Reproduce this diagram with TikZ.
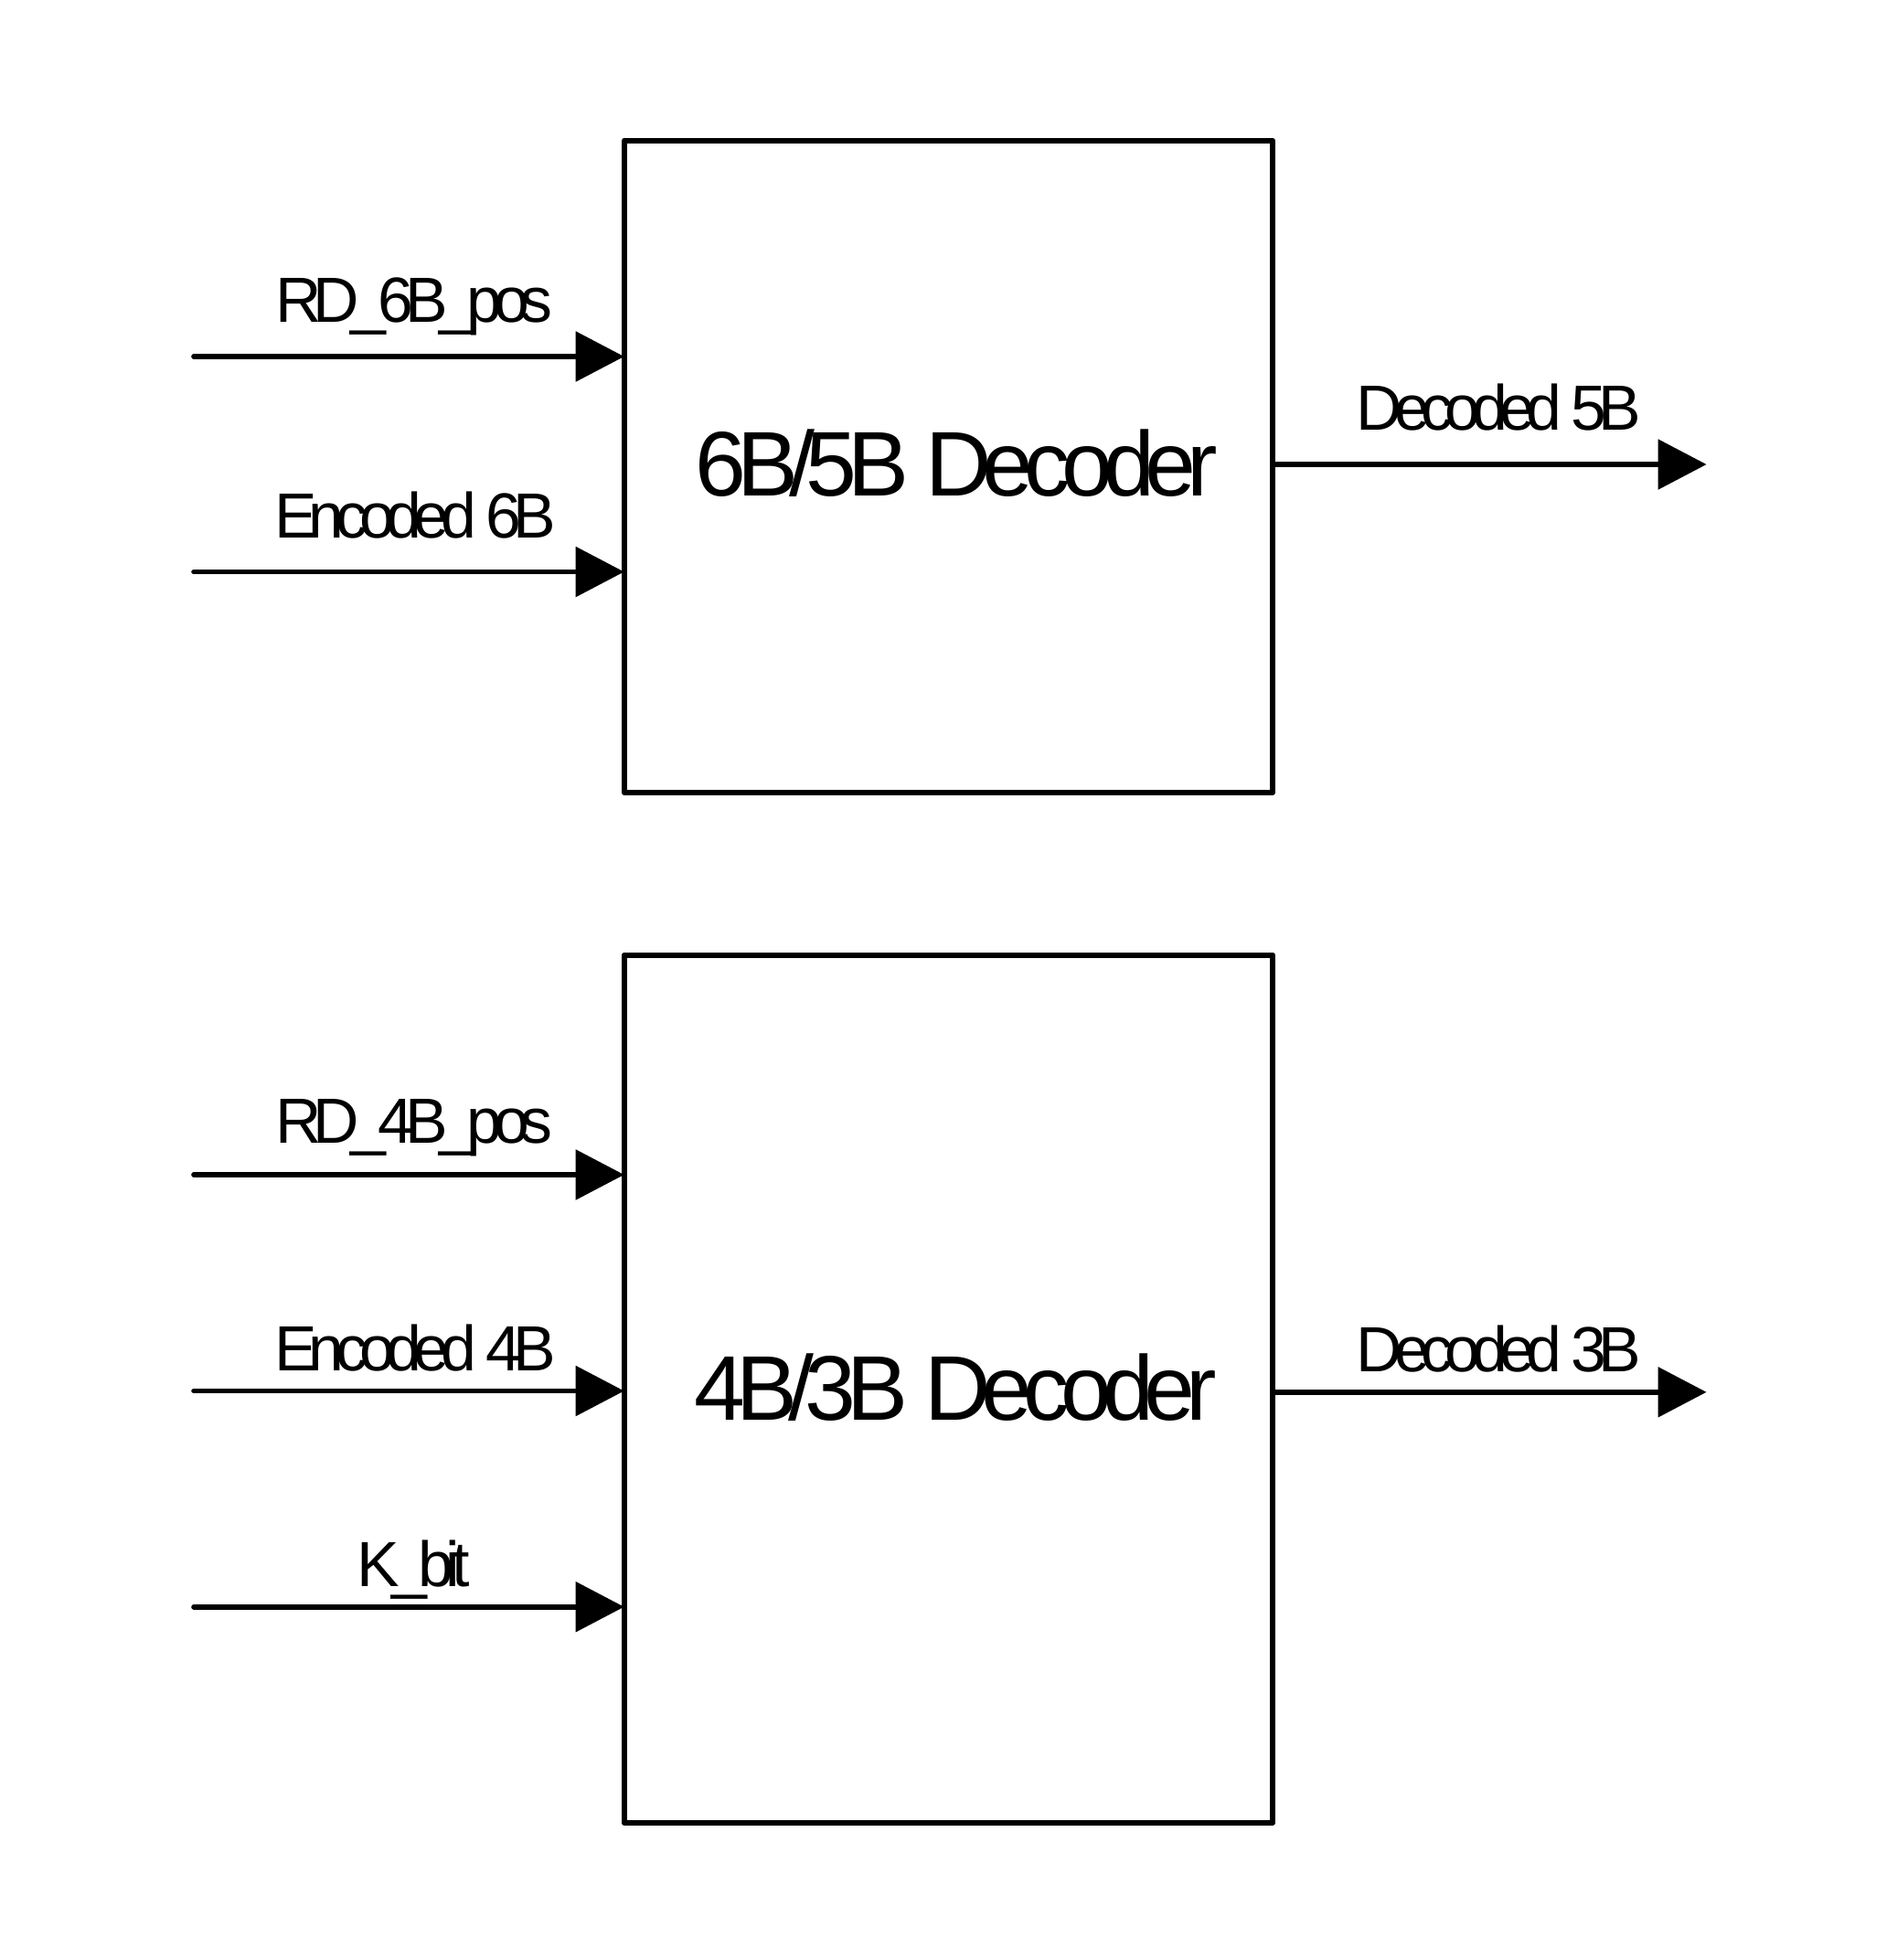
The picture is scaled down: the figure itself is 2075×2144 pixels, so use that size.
\documentclass[tikz,border=0pt]{standalone}
\usepackage{fontspec}
\setmainfont{Liberation Sans}
\newfontfamily\lblfont[LetterSpace=-13]{Liberation Sans}
\newfontfamily\ttlfont[LetterSpace=-9.9]{Liberation Sans}
\usetikzlibrary{arrows.meta}
\begin{document}
\begin{tikzpicture}[x=0.5pt,y=-0.5pt,
  blockbox/.style={draw=black, line width=3pt, fill=none, inner sep=0pt, outer sep=0pt, line join=round},
  lbl/.style={anchor=base, inner sep=0pt, font=\lblfont\fontsize{34.9pt}{40pt}\selectfont},
  ttl/.style={anchor=base, inner sep=0pt, font=\ttlfont\fontsize{50.2pt}{56pt}\selectfont},
  sig/.style={line width=2.8pt, line cap=round, -{Triangle[length=26.5pt,width=27pt]}}
]
\useasboundingbox (0,0) rectangle (2075,2144);
\fill[white] (0,0) rectangle (2075,2144);

% blocks
\node[blockbox, minimum width=354.65pt, minimum height=356.7pt] (dec65) at (1037.35,510.3) {};
\node[blockbox, minimum width=354.65pt, minimum height=474.75pt] (dec43) at (1037.35,1519.25) {};

% block titles
\node[ttl] (t65) at (1046.5,542) {6B/5B Decoder};
\node[ttl] (t43) at (1045.5,1553.4) {4B/3B Decoder};

% input start points and output end points
\coordinate (i1) at (212,390);
\coordinate (i2) at (212,625.5);
\coordinate (o1) at (1866.6,508);
\coordinate (i3) at (212,1285);
\coordinate (i4) at (212,1521.5);
\coordinate (i5) at (212,1757.7);
\coordinate (o2) at (1866.6,1522.8);

% connectors
\draw[sig] (i1) -- (i1 -| dec65.west);
\draw[sig] (i2) -- (i2 -| dec65.west);
\draw[sig] (o1 -| dec65.east) -- (o1);
\draw[sig] (i3) -- (i3 -| dec43.west);
\draw[sig] (i4) -- (i4 -| dec43.west);
\draw[sig] (i5) -- (i5 -| dec43.west);
\draw[sig] (o2 -| dec43.east) -- (o2);

% labels
\node[lbl] (l1) at (453,352.6) {RD\_6B\_pos};
\node[lbl] (l2) at (454,588.7) {Encoded 6B};
\node[lbl] (l3) at (1639.5,470) {Decoded 5B};
\node[lbl] (l4) at (453,1250) {RD\_4B\_pos};
\node[lbl] (l5) at (454,1499) {Encoded 4B};
\node[lbl] (l6) at (452,1735.5) {K\_bit};
\node[lbl] (l7) at (1639.5,1500) {Decoded 3B};
\end{tikzpicture}
\end{document}
